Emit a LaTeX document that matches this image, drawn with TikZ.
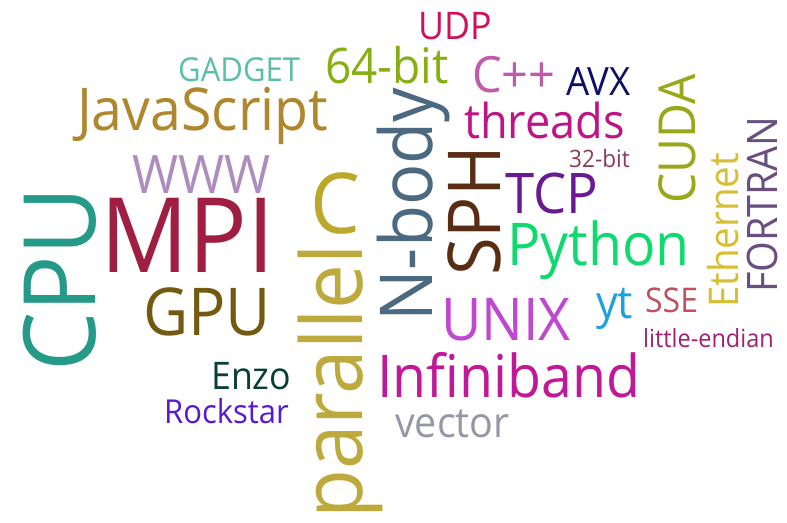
\documentclass[tikz,border=0pt]{standalone}
\usepackage{fontspec}
\setmainfont{Open Sans}
\usepackage{xcolor}
\usepackage{tikz}

\newcommand{\wsz}[1]{\fontsize{#1pt}{#1pt}\selectfont}

\definecolor{cUdp}{RGB}{208,16,90}
\definecolor{cGadget}{RGB}{90,190,170}
\definecolor{cSixtyfour}{RGB}{135,175,15}
\definecolor{cCpp}{RGB}{192,90,170}
\definecolor{cAvx}{RGB}{15,15,100}
\definecolor{cJava}{RGB}{175,135,45}
\definecolor{cThreads}{RGB}{190,20,135}
\definecolor{cThirtytwo}{RGB}{140,60,80}
\definecolor{cWww}{RGB}{175,140,190}
\definecolor{cMpi}{RGB}{160,30,65}
\definecolor{cC}{RGB}{190,168,42}
\definecolor{cParallel}{RGB}{190,170,60}
\definecolor{cNbody}{RGB}{75,105,128}
\definecolor{cSph}{RGB}{88,45,20}
\definecolor{cTcp}{RGB}{105,25,145}
\definecolor{cPython}{RGB}{15,218,110}
\definecolor{cCuda}{RGB}{152,168,25}
\definecolor{cEthernet}{RGB}{215,190,50}
\definecolor{cFortran}{RGB}{105,78,128}
\definecolor{cCpu}{RGB}{38,154,136}
\definecolor{cGpu}{RGB}{115,90,16}
\definecolor{cUnix}{RGB}{192,72,208}
\definecolor{cYt}{RGB}{32,160,224}
\definecolor{cSse}{RGB}{192,80,96}
\definecolor{cEndian}{RGB}{160,32,110}
\definecolor{cInfini}{RGB}{192,24,152}
\definecolor{cEnzo}{RGB}{10,64,52}
\definecolor{cRock}{RGB}{90,24,208}
\definecolor{cVector}{RGB}{150,150,168}

\begin{document}
\begin{tikzpicture}[
    x=1pt, y=-1pt,
    word/.style={inner sep=0pt, anchor=base west},
    hword/.style={word, xscale=0.94},
    upword/.style={word, rotate=90, xscale=0.94}
]
\useasboundingbox (0,0) rectangle (787,522);

% Horizontal words
\node[hword, cUdp, font=\wsz{38}] (udp) at (418,39) {UDP};
\node[hword, cGadget, font=\wsz{33}] (gadget) at (178,81) {GADGET};
\node[hword, cSixtyfour, font=\wsz{49}] (bit64) at (325,83) {64-bit};
\node[hword, cCpp, font=\wsz{50}] (cpp) at (472,92) {C++};
\node[hword, cAvx, font=\wsz{39}] (avx) at (566,95) {AVX};
\node[hword, cJava, font=\wsz{59}] (java) at (77,130) {JavaScript};
\node[hword, cThreads, font=\wsz{48}] (threads) at (464,138) {threads};
\node[hword, cThirtytwo, font=\wsz{24}] (bit32) at (569,167) {32-bit};
\node[hword, cWww, font=\wsz{53}] (www) at (132,193) {WWW};
\node[hword, cMpi, font=\wsz{104}] (mpi) at (100,272) {MPI};
\node[hword, cC, font=\wsz{84}] (clang) at (310,233) {C};
\node[hword, cTcp, font=\wsz{56}] (tcp) at (505,213) {TCP};
\node[hword, cPython, font=\wsz{59}] (python) at (507,265) {Python};
\node[hword, cGpu, font=\wsz{66}] (gpu) at (143,335) {GPU};
\node[hword, cUnix, font=\wsz{59}] (unix) at (441,340) {UNIX};
\node[hword, cYt, font=\wsz{46}] (yt) at (596,318) {yt};
\node[hword, cSse, font=\wsz{34}] (sse) at (645,312) {SSE};
\node[hword, cEndian, font=\wsz{25}] (endian) at (643,347) {little-endian};
\node[hword, cInfini, font=\wsz{59}] (infini) at (377,397) {Infiniband};
\node[hword, cEnzo, font=\wsz{38}] (enzo) at (211,389) {Enzo};
\node[hword, cRock, font=\wsz{33}] (rock) at (164,423) {Rockstar};
\node[hword, cVector, font=\wsz{42}] (vector) at (395,437) {vector};

% Vertical words
\node[upword, cCpu, font=\wsz{100}] (cpu) at (95,372) {CPU};
\node[upword, cParallel, font=\wsz{85}] (parallel) at (362,519) {parallel};
\node[upword, cNbody, font=\wsz{73}] (nbody) at (432,322) {N-body};
\node[upword, cSph, font=\wsz{73}] (sph) at (500,276) {SPH};
\node[upword, cCuda, font=\wsz{51}] (cuda) at (695,204) {CUDA};
\node[upword, cEthernet, font=\wsz{41}] (ethernet) at (738,308) {Ethernet};
\node[upword, cFortran, font=\wsz{42}] (fortran) at (777,293) {FORTRAN};

\end{tikzpicture}
\end{document}
